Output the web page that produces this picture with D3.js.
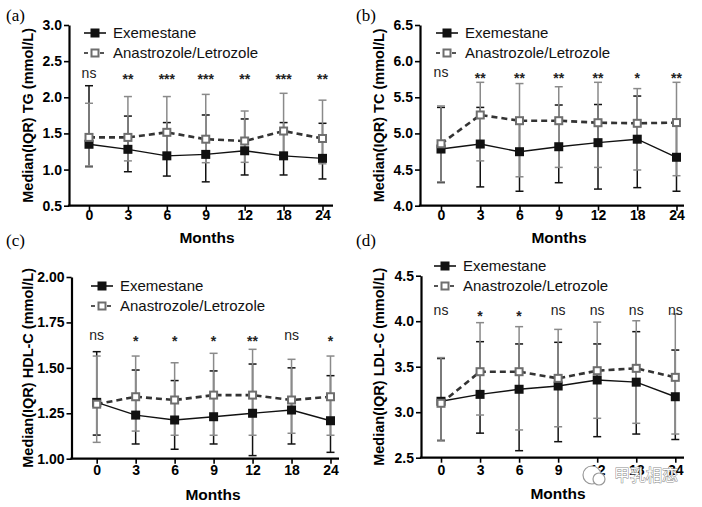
<!DOCTYPE html>
<html>
<head>
<meta charset="utf-8">
<script src="https://cdn.jsdelivr.net/npm/d3@7"></script>
<style>
  body { margin: 0; background: #fff; }
  svg { display: block; font-family: Arial, "Liberation Sans", sans-serif; }
</style>
</head>
<body>
<div id="chart"></div>
<script>
// categories
const months = ["0", "3", "6", "9", "12", "18", "24"];

// TG
const tgExeMed = [1.35, 1.28, 1.19, 1.21, 1.26, 1.19, 1.155];
const tgExeLo  = [1.04, 0.97, 0.91, 0.83, 0.925, 0.925, 0.87];
const tgExeHi  = [2.16, 1.74, 1.65, 1.755, 1.70, 1.65, 1.64];
const tgAnaMed = [1.445, 1.445, 1.515, 1.42, 1.395, 1.533, 1.43];
const tgAnaLo  = [1.05, 1.12, 1.20, 1.095, 1.10, 1.20, 1.08];
const tgAnaHi  = [1.917, 2.01, 2.01, 2.04, 1.81, 2.055, 1.96];
const tgSig    = ["ns", "**", "***", "***", "**", "***", "**"];

// TC
const tcExeMed = [4.784, 4.853, 4.747, 4.816, 4.872, 4.92, 4.67];
const tcExeLo  = [4.32, 4.26, 4.20, 4.318, 4.23, 4.25, 4.20];
const tcExeHi  = [5.36, 5.36, 5.15, 5.393, 5.40, 5.517, 5.10];
const tcAnaMed = [4.857, 5.255, 5.176, 5.176, 5.148, 5.14, 5.15];
const tcAnaLo  = [4.33, 4.62, 4.40, 4.53, 4.53, 4.494, 4.415];
const tcAnaHi  = [5.38, 5.707, 5.69, 5.646, 5.707, 5.62, 5.707];
const tcSig    = ["ns", "**", "**", "**", "**", "*", "**"];

// HDL-C
const hdlExeMed = [1.31, 1.24, 1.213, 1.231, 1.25, 1.268, 1.209];
const hdlExeLo  = [1.13, 1.081, 1.052, 1.081, 1.017, 1.081, 1.035];
const hdlExeHi  = [1.589, 1.488, 1.43, 1.483, 1.521, 1.50, 1.457];
const hdlAnaMed = [1.30, 1.341, 1.323, 1.35, 1.35, 1.323, 1.341];
const hdlAnaLo  = [1.09, 1.152, 1.129, 1.129, 1.129, 1.14, 1.129];
const hdlAnaHi  = [1.565, 1.565, 1.528, 1.58, 1.602, 1.547, 1.565];
const hdlSig    = ["ns", "*", "*", "*", "**", "ns", "*"];

// LDL-C
const ldlExeMed = [3.12, 3.196, 3.252, 3.288, 3.354, 3.33, 3.17];
const ldlExeLo  = [2.69, 2.77, 2.577, 2.676, 2.731, 2.76, 2.70];
const ldlExeHi  = [3.59, 3.775, 3.75, 3.768, 3.75, 3.885, 3.683];
const ldlAnaMed = [3.098, 3.445, 3.445, 3.372, 3.456, 3.482, 3.383];
const ldlAnaLo  = [2.684, 2.969, 2.805, 2.84, 2.933, 2.878, 2.76];
const ldlAnaHi  = [3.60, 3.984, 3.94, 3.91, 3.99, 4.005, 4.08];
const ldlSig    = ["ns", "*", "*", "ns", "ns", "ns", "ns"];

// y tick labels
const tgTicks  = [0.5, 1.0, 1.5, 2.0, 2.5, 3.0];
const tcTicks  = [4.0, 4.5, 5.0, 5.5, 6.0, 6.5];
const hdlTicks = [1.00, 1.25, 1.50, 1.75, 2.00];
const ldlTicks = [2.5, 3.0, 3.5, 4.0, 4.5];

const seriesNames = ["Exemestane", "Anastrozole/Letrozole"];

const width = 702, height = 507;
const svg = d3.select("#chart").append("svg")
  .attr("width", width)
  .attr("height", height);

const panels = [
  { tag: "(a)", tagX: 6, tagY: 21, label: "Median(IQR) TG (mmol/L)", ticks: tgTicks, fmt: ".1f",
    exe: [tgExeMed, tgExeLo, tgExeHi], ana: [tgAnaMed, tgAnaLo, tgAnaHi], sig: tgSig,
    ax: 69, top: 25, bottom: 205.7, x0: 89, x1: 322.5, xEnd: 333,
    legX: 95, legY: 33, sigY: 73, tickY: 220, monthsX: 207, monthsY: 238, labX: 28 },
  { tag: "(b)", tagX: 356, tagY: 21, label: "Median(IQR) TC (mmol/L)", ticks: tcTicks, fmt: ".1f",
    exe: [tcExeMed, tcExeLo, tcExeHi], ana: [tcAnaMed, tcAnaLo, tcAnaHi], sig: tcSig,
    ax: 420, top: 25, bottom: 205.7, x0: 441, x1: 676.5, xEnd: 684,
    legX: 447, legY: 33, sigY: 72, tickY: 220, monthsX: 559, monthsY: 238, labX: 379 },
  { tag: "(c)", tagX: 6, tagY: 246, label: "Median(IQR) HDL-C (mmol/L)", ticks: hdlTicks, fmt: ".2f",
    exe: [hdlExeMed, hdlExeLo, hdlExeHi], ana: [hdlAnaMed, hdlAnaLo, hdlAnaHi], sig: hdlSig,
    ax: 71.5, top: 277, bottom: 458.7, x0: 96.7, x1: 330.5, xEnd: 339,
    legX: 102, legY: 286, sigY: 335, tickY: 475, monthsX: 213, monthsY: 495, labX: 28 },
  { tag: "(d)", tagX: 356, tagY: 246, label: "Median(IQR) LDL-C (mmol/L)", ticks: ldlTicks, fmt: ".1f",
    exe: [ldlExeMed, ldlExeLo, ldlExeHi], ana: [ldlAnaMed, ldlAnaLo, ldlAnaHi], sig: ldlSig,
    ax: 421, top: 275.7, bottom: 457.7, x0: 441, x1: 675.3, xEnd: 684,
    legX: 445, legY: 266, sigY: 310, tickY: 475, monthsX: 558, monthsY: 494, labX: 379 }
];

const exeColor = "#111";
const anaColor = "#8a8a8a";
const anaLine = "#333";
const markSize = 9;
const capW = 8;

panels.forEach(p => {
  const g = svg.append("g");
  const ticks = p.ticks;
  const x = d3.scalePoint().domain(months).range([p.x0, p.x1]);
  const y = d3.scaleLinear().domain([ticks[0], ticks[ticks.length - 1]]).range([p.bottom, p.top]);

  // panel tag
  svg.append("text")
    .attr("x", p.tagX).attr("y", p.tagY)
    .style("font-family", "'Liberation Serif', 'Times New Roman', serif")
    .style("font-size", "17px")
    .text(p.tag);

  // y axis
  const yAxis = g.append("g")
    .attr("transform", `translate(${p.ax},0)`)
    .call(d3.axisLeft(y).tickValues(ticks).tickFormat(d3.format(p.fmt)).tickSize(5).tickSizeOuter(0));
  yAxis.select(".domain").attr("stroke-width", 2.2);
  yAxis.selectAll(".tick line").attr("stroke-width", 1.6);
  yAxis.selectAll(".tick text")
    .attr("x", -7)
    .style("font-size", "14px").style("font-weight", "bold")
    .style("font-family", "Arial, 'Liberation Sans', sans-serif");

  // x axis
  const xAxis = g.append("g")
    .attr("transform", `translate(0,${p.bottom})`)
    .call(d3.axisBottom(x).tickSize(5));
  xAxis.select(".domain").remove();
  xAxis.selectAll(".tick line").attr("stroke-width", 1.6);
  xAxis.selectAll(".tick text")
    .attr("y", p.tickY - p.bottom - 5).attr("dy", "0.35em")
    .style("font-size", "14px").style("font-weight", "bold")
    .style("font-family", "Arial, 'Liberation Sans', sans-serif");
  g.append("line")
    .attr("x1", p.ax - 1.1).attr("x2", p.xEnd)
    .attr("y1", p.bottom).attr("y2", p.bottom)
    .attr("stroke", "#000").attr("stroke-width", 2.2);

  // axis titles
  g.append("text")
    .attr("transform", `translate(${p.labX},${(p.top + p.bottom) / 2}) rotate(-90)`)
    .attr("text-anchor", "middle").attr("dy", "0.35em")
    .style("font-size", "14.5px").style("font-weight", "bold")
    .text(p.label);
  g.append("text")
    .attr("x", p.monthsX).attr("y", p.monthsY)
    .attr("text-anchor", "middle").attr("dy", "0.35em")
    .style("font-size", "15.5px").style("font-weight", "bold")
    .text("Months");

  const pts = (arr) => months.map((m, i) => ({ m: m, med: arr[0][i], lo: arr[1][i], hi: arr[2][i] }));
  const exePts = pts(p.exe);
  const anaPts = pts(p.ana);

  function errorBars(data, color) {
    const eb = g.append("g").attr("stroke", color).attr("stroke-width", 1.5);
    eb.selectAll("line.v").data(data).enter().append("line")
      .attr("x1", d => x(d.m)).attr("x2", d => x(d.m))
      .attr("y1", d => y(d.lo)).attr("y2", d => y(d.hi));
    ["lo", "hi"].forEach(k => {
      eb.selectAll("line.c" + k).data(data).enter().append("line")
        .attr("x1", d => x(d.m) - capW / 2).attr("x2", d => x(d.m) + capW / 2)
        .attr("y1", d => y(d[k])).attr("y2", d => y(d[k]));
    });
  }
  errorBars(exePts, exeColor);
  errorBars(anaPts, anaColor);

  const line = d3.line().x(d => x(d.m)).y(d => y(d.med));
  g.append("path").datum(exePts).attr("d", line)
    .attr("fill", "none").attr("stroke", exeColor).attr("stroke-width", 1.4);
  g.append("path").datum(anaPts).attr("d", line)
    .attr("fill", "none").attr("stroke", anaLine).attr("stroke-width", 2.6)
    .attr("stroke-dasharray", "6,4");

  g.selectAll("rect.exe").data(exePts).enter().append("rect")
    .attr("x", d => x(d.m) - markSize / 2).attr("y", d => y(d.med) - markSize / 2)
    .attr("width", markSize).attr("height", markSize).attr("fill", exeColor);
  g.selectAll("rect.ana").data(anaPts).enter().append("rect")
    .attr("x", d => x(d.m) - (markSize - 2) / 2).attr("y", d => y(d.med) - (markSize - 2) / 2)
    .attr("width", markSize - 2).attr("height", markSize - 2)
    .attr("fill", "#fff").attr("stroke", "#6e6e6e").attr("stroke-width", 2);

  // significance labels
  g.selectAll("text.sig").data(p.sig).enter().append("text")
    .attr("x", (d, i) => x(months[i])).attr("y", p.sigY)
    .attr("text-anchor", "middle").attr("dy", d => d === "ns" ? "0.35em" : "0.8em")
    .style("font-size", "14px")
    .style("font-weight", d => d === "ns" ? "normal" : "bold")
    .style("fill", "#222")
    .text(d => d);

  // legend
  seriesNames.forEach((name, i) => {
    const ly = p.legY + i * 20;
    const lg = g.append("g");
    if (i === 0) {
      lg.append("line").attr("x1", p.legX - 11).attr("x2", p.legX + 11)
        .attr("y1", ly).attr("y2", ly).attr("stroke", exeColor).attr("stroke-width", 1.6);
      lg.append("rect").attr("x", p.legX - 4.5).attr("y", ly - 4.5)
        .attr("width", 9).attr("height", 9).attr("fill", exeColor);
    } else {
      lg.append("line").attr("x1", p.legX - 11).attr("x2", p.legX + 11)
        .attr("y1", ly).attr("y2", ly).attr("stroke", "#555").attr("stroke-width", 2)
        .attr("stroke-dasharray", "4,12,4");
      lg.append("rect").attr("x", p.legX - 3.5).attr("y", ly - 3.5)
        .attr("width", 7).attr("height", 7)
        .attr("fill", "#fff").attr("stroke", "#6e6e6e").attr("stroke-width", 2);
    }
    lg.append("text").attr("x", p.legX + 18).attr("y", ly).attr("dy", "0.35em")
      .style("font-size", "15px").style("fill", "#111")
      .text(name);
  });
});

// watermark
const wm = svg.append("g").attr("transform", "translate(592,475)");
wm.append("circle").attr("cx", 0).attr("cy", 0).attr("r", 9)
  .attr("fill", "#fff").attr("stroke", "#999").attr("stroke-width", 1.2);
wm.append("circle").attr("cx", 7).attr("cy", 4).attr("r", 6)
  .attr("fill", "#fff").attr("stroke", "#999").attr("stroke-width", 1.2);
wm.append("text").attr("x", 22).attr("y", 0).attr("dy", "0.38em")
  .style("font-family", "'Noto Sans CJK SC', sans-serif")
  .style("font-size", "16px")
  .style("fill", "#fff").style("stroke", "#8a8a8a").style("stroke-width", 1)
  .style("paint-order", "stroke")
  .text("甲乳相恋");
</script>
</body>
</html>
